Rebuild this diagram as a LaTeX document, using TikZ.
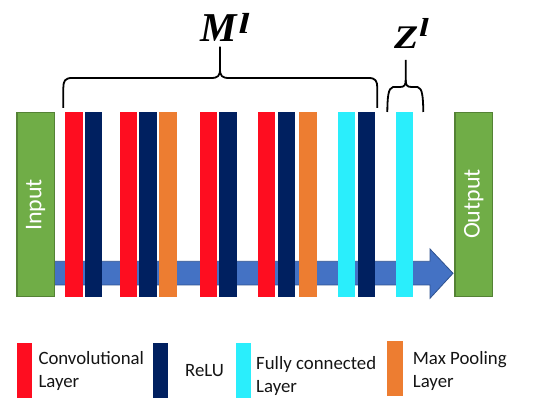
\documentclass[tikz,border=0pt]{standalone}
\usepackage{fontspec}
\usepackage{graphicx}
\setmainfont{Carlito}
\newfontfamily\lserif{Liberation Serif}
\definecolor{convred}{RGB}{254,13,32}
\definecolor{relunavy}{RGB}{0,32,96}
\definecolor{poolorange}{RGB}{237,125,49}
\definecolor{fccyan}{RGB}{42,238,252}
\definecolor{iogreen}{RGB}{112,173,71}
\definecolor{iogreenborder}{RGB}{84,130,53}
\definecolor{arrowblue}{RGB}{68,114,196}
\definecolor{arrowborder}{RGB}{47,82,143}
\definecolor{legtext}{RGB}{20,20,20}
\tikzset{
  layerbar/.style={fill=#1, draw=none},
  iobox/.style={fill=iogreen, draw=iogreenborder, line width=1.2pt},
  iotext/.style={text=white, font=\fontsize{24}{24}\selectfont, rotate=90, inner sep=0pt},
  bracepath/.style={draw=black, line width=1.8pt, line join=round},
  legtxt/.style={text=legtext, font=\fontsize{18.8}{22}\selectfont, anchor=base west, inner sep=0pt},
}
\begin{document}
\begin{tikzpicture}[x=1pt,y=1pt]
\useasboundingbox (0,0) rectangle (535,403);
% arrow
\fill[arrowblue, draw=arrowborder, line width=0.8pt]
  (53,141.7) -- (430,141.7) -- (430,154) -- (453,129.7) -- (430,104.7) -- (430,118) -- (53,118) -- cycle;
% input / output
\filldraw[iobox] (17,106.5) rectangle (54.5,290.5);
\node[iotext] (input) at (35.7,198) {Input};
\filldraw[iobox] (455,106.5) rectangle (492.3,290.5);
\node[iotext] (output) at (473.7,199) {Output};
% bars
\foreach \xa/\xb/\c in {65/82.7/convred, 85.3/102/relunavy,
   120/136.7/convred, 139/156.7/relunavy, 159.3/176.7/poolorange,
   199.7/216.7/convred, 218.7/236.7/relunavy,
   258/275/convred, 277.7/295/relunavy, 299.3/317.3/poolorange,
   337.7/354.7/fccyan, 358/374.7/relunavy,
   396/413/fccyan}
  \fill[layerbar=\c] (\xa,106) rectangle (\xb,291);
% M brace
\draw[bracepath] (63.3,295) -- (63.3,315) .. controls (63.3,322) and (65,325) .. (72,325) -- (211,325)
   .. controls (218,325) and (220,327) .. (220,334) -- (220,356.3);
\draw[bracepath] (377.3,295) -- (377.3,315) .. controls (377.3,322) and (375.6,325) .. (368.6,325) -- (229,325)
   .. controls (222,325) and (220,327) .. (220,334);
% Z brace
\draw[bracepath] (387.3,291) .. controls (387.5,305) and (388,315) .. (393,316) -- (400,316)
   .. controls (404.5,316) and (405.7,318) .. (405.7,323) -- (405.7,343);
\draw[bracepath] (423.3,291) .. controls (423.1,305) and (422.6,315) .. (417.6,316) -- (411.4,316)
   .. controls (406.9,316) and (405.7,318) .. (405.7,323);
% labels
\node[inner sep=0pt, anchor=base] (Mlabel) at (225,361.3)
  {\lserif\bfseries\itshape\fontsize{41}{41}\selectfont M\kern1.5pt\raisebox{8.5pt}{\scalebox{1.35}[1]{\fontsize{29}{29}\selectfont l}}};
\node[inner sep=0pt, anchor=base] (Zlabel) at (411.5,354)
  {\lserif\bfseries\itshape\fontsize{33}{33}\selectfont \scalebox{1.2}[1]{Z}\kern1pt\raisebox{12pt}{\scalebox{1.35}[1]{\fontsize{26}{26}\selectfont l}}};
% legend
\fill[convred] (17.3,5.3) rectangle (32.3,59.7);
\node[legtxt] (conv1) at (38.3,38) {Convolutional};
\node[legtxt] (conv2) at (38.3,15) {Layer};
\fill[relunavy] (152.7,5) rectangle (168.3,60);
\node[legtxt] (relu) at (185,26.3) {ReLU};
\fill[fccyan] (235.7,5) rectangle (250.7,60);
\node[legtxt] (fc1) at (256,33) {Fully connected};
\node[legtxt] (fc2) at (256,10) {Layer};
\fill[poolorange] (387.3,7) rectangle (402.7,62.3);
\node[legtxt] (mp1) at (412.7,38) {Max Pooling};
\node[legtxt] (mp2) at (412.7,15) {Layer};
\end{tikzpicture}
\end{document}
